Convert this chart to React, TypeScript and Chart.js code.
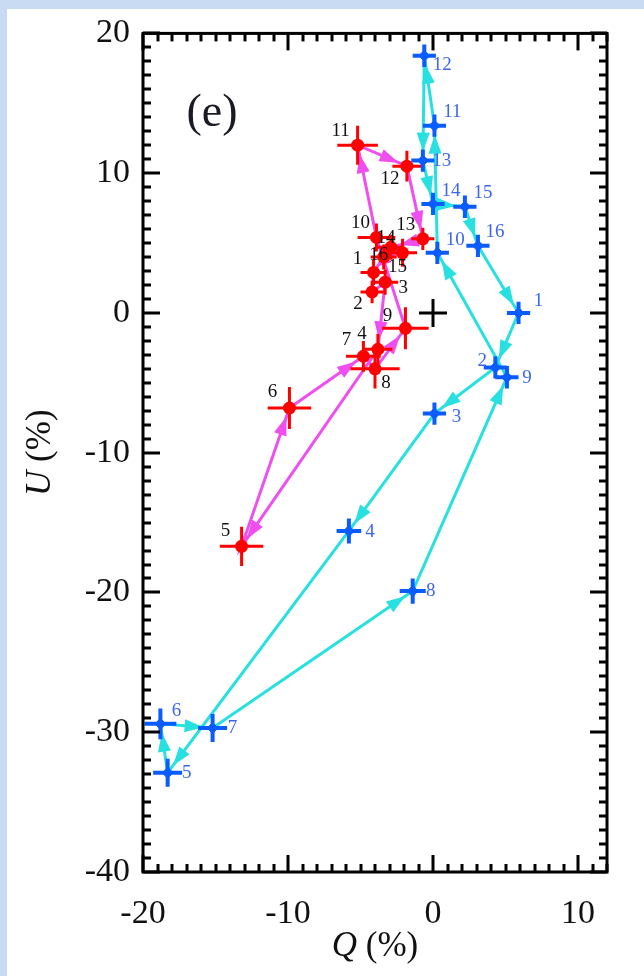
import React, { useEffect, useRef } from "react";
import { Chart, registerables } from "chart.js";

Chart.register(...registerables);

// Point numbers along each track
const pointNames = ["1", "2", "3", "4", "5", "6", "7", "8", "9", "10", "11", "12", "13", "14", "15", "16"];

// Blue track (Q, U in %) with 1-sigma errors
const blueQ = [5.9, 4.3, 0.1, -5.8, -18.3, -18.8, -15.2, -1.4, 5.1, 0.3, 0.1, -0.6, -0.7, 0.0, 2.2, 3.1];
const blueU = [0.0, -3.9, -7.2, -15.6, -32.9, -29.4, -29.7, -19.9, -4.6, 4.3, 13.4, 18.4, 10.9, 7.8, 7.6, 4.8];
const blueQErr = [0.8, 0.8, 0.8, 0.85, 1.0, 1.1, 1.0, 0.9, 0.8, 0.8, 0.8, 0.8, 0.8, 0.8, 0.8, 0.8];
const blueUErr = [0.8, 0.8, 0.8, 0.9, 1.0, 1.1, 1.0, 0.9, 0.8, 0.8, 0.8, 0.8, 0.8, 0.8, 0.8, 0.8];

// Red track (Q, U in %) with 1-sigma errors
const redQ = [-4.1, -4.2, -3.3, -3.8, -13.2, -9.9, -4.8, -4.0, -1.9, -3.9, -5.2, -1.8, -0.7, -2.9, -2.1, -3.4];
const redU = [2.9, 1.5, 2.2, -2.6, -16.7, -6.8, -3.1, -4.0, -1.1, 5.4, 12.0, 10.5, 5.3, 4.7, 4.3, 4.0];
const redQErr = [0.9, 0.8, 0.9, 1.0, 1.5, 1.5, 1.2, 1.7, 1.6, 1.3, 1.4, 1.0, 0.8, 0.9, 1.0, 0.9];
const redUErr = [0.9, 0.8, 0.9, 1.1, 1.4, 1.5, 1.1, 1.4, 1.5, 1.0, 1.4, 1.1, 0.8, 0.9, 1.0, 0.9];

// Reference origin
const originQ = [0];
const originU = [0];

// Axes
const qRange = [-20, 12];
const uRange = [-40, 20];
const qTicks = [-20, -10, 0, 10];
const uTicks = [-40, -30, -20, -10, 0, 10, 20];
const minorStep = 1;
const majorStep = 10;
const panelTag = "(e)";

// Label offsets in pixels (placement only)
const blueLabelDx = [20, -13, 22, 21, 19, 16, 20, 18, 20, 18, 18, 18, 19, 18, 18, 17];
const blueLabelDy = [-12, -6, 3, 1, 0, -13, 0, 0, 1, -13, -14, 9, 0, -13, -14, -14];
const redLabelDx = [-16, -14, 18, -16, -16, -17, -17, 11, -18, -16, -17, -17, -17, -5, -5, -5];
const redLabelDy = [-13, 12, 6, -15, -15, -16, -16, 14, -12, -14, -14, 13, -14, -9, 14, -2];

const CYAN = "#28e0e0";
const MAGENTA = "#ee4fee";
const BLUE = "#0b5cff";
const RED = "#ff0000";
const BLUE_TEXT = "#3d66ee";
const INK = "#111111";
const SERIF = "'Liberation Serif', 'DejaVu Serif', serif";

const toPoints = (q: number[], u: number[]) => q.map((x, i) => ({ x, y: u[i] }));
const closedLoop = (q: number[], u: number[]) => {
  const pts = toPoints(q, u);
  return pts.concat([pts[0]]);
};

const tracks: Record<string, any> = {
  blue: { q: blueQ, u: blueU, qe: blueQErr, ue: blueUErr, line: CYAN, mark: BLUE, barWidth: 4 },
  red: { q: redQ, u: redU, qe: redQErr, ue: redUErr, line: MAGENTA, mark: RED, barWidth: 3 },
};

function arrowHead(ctx: CanvasRenderingContext2D, x0: number, y0: number, x1: number, y1: number, color: string) {
  const dx = x1 - x0;
  const dy = y1 - y0;
  const d = Math.hypot(dx, dy);
  if (d < 30) return;
  const ux = dx / d;
  const uy = dy / d;
  const gap = 9;
  const len = 19;
  const half = 6.5;
  const tx = x1 - ux * gap;
  const ty = y1 - uy * gap;
  const bx = tx - ux * len;
  const by = ty - uy * len;
  ctx.beginPath();
  ctx.moveTo(tx, ty);
  ctx.lineTo(bx - uy * half, by + ux * half);
  ctx.lineTo(bx + uy * half, by - ux * half);
  ctx.closePath();
  ctx.fillStyle = color;
  ctx.fill();
}

const overlay = {
  id: "overlay",
  afterDatasetDraw(chart: any, args: any) {
    const ds = chart.data.datasets[args.index];
    const t = tracks[ds.trackKey];
    if (!t || ds.trackRole !== "path") return;
    const ctx: CanvasRenderingContext2D = chart.ctx;
    const xs = chart.scales.x;
    const ys = chart.scales.y;
    ctx.save();
    const n = t.q.length;
    for (let i = 0; i < n; i++) {
      const j = (i + 1) % n;
      arrowHead(
        ctx,
        xs.getPixelForValue(t.q[i]),
        ys.getPixelForValue(t.u[i]),
        xs.getPixelForValue(t.q[j]),
        ys.getPixelForValue(t.u[j]),
        t.line
      );
    }
    ctx.strokeStyle = t.mark;
    ctx.lineWidth = t.barWidth;
    for (let i = 0; i < n; i++) {
      const px = xs.getPixelForValue(t.q[i]);
      const py = ys.getPixelForValue(t.u[i]);
      ctx.beginPath();
      ctx.moveTo(xs.getPixelForValue(t.q[i] - t.qe[i]), py);
      ctx.lineTo(xs.getPixelForValue(t.q[i] + t.qe[i]), py);
      ctx.moveTo(px, ys.getPixelForValue(t.u[i] - t.ue[i]));
      ctx.lineTo(px, ys.getPixelForValue(t.u[i] + t.ue[i]));
      ctx.stroke();
    }
    ctx.restore();
  },
  afterDraw(chart: any) {
    const ctx: CanvasRenderingContext2D = chart.ctx;
    const xs = chart.scales.x;
    const ys = chart.scales.y;
    const { left, right, top, bottom } = chart.chartArea;
    ctx.save();

    // point numbers
    ctx.textAlign = "center";
    ctx.textBaseline = "middle";
    ctx.font = `19px ${SERIF}`;
    pointNames.forEach((name, i) => {
      ctx.fillStyle = BLUE_TEXT;
      ctx.fillText(name, xs.getPixelForValue(blueQ[i]) + blueLabelDx[i], ys.getPixelForValue(blueU[i]) + blueLabelDy[i]);
      ctx.fillStyle = INK;
      ctx.fillText(name, xs.getPixelForValue(redQ[i]) + redLabelDx[i], ys.getPixelForValue(redU[i]) + redLabelDy[i]);
    });

    // frame and inward ticks on all four sides
    ctx.strokeStyle = "#000";
    ctx.lineWidth = 3;
    ctx.strokeRect(left, top, right - left, bottom - top);
    ctx.fillStyle = "#000";
    const tw = 3;
    const steps = (lo: number, hi: number) => {
      const out: number[] = [];
      for (let k = Math.ceil(lo / minorStep); k * minorStep <= hi; k++) out.push(k * minorStep);
      return out;
    };
    steps(qRange[0], qRange[1]).forEach((v) => {
      const px = Math.round(xs.getPixelForValue(v));
      const len = Math.abs(v % majorStep) < 1e-9 ? 17 : 8;
      ctx.fillRect(px - tw / 2, bottom - len, tw, len);
      ctx.fillRect(px - tw / 2, top, tw, len);
    });
    steps(uRange[0], uRange[1]).forEach((v) => {
      const py = Math.round(ys.getPixelForValue(v));
      const len = Math.abs(v % majorStep) < 1e-9 ? 17 : 8;
      ctx.fillRect(left, py - tw / 2, len, tw);
      ctx.fillRect(right - len, py - tw / 2, len, tw);
    });

    // panel tag
    ctx.fillStyle = "#1a1a24";
    ctx.font = `46px ${SERIF}`;
    ctx.textAlign = "center";
    ctx.textBaseline = "middle";
    ctx.fillText(panelTag, 212, 114);

    // axis titles: italic symbol followed by upright unit
    const drawTitle = (sym: string, unit: string) => {
      ctx.font = `italic 35px ${SERIF}`;
      const w1 = ctx.measureText(sym).width;
      ctx.font = `35px ${SERIF}`;
      const w2 = ctx.measureText(unit).width;
      const start = -(w1 + w2) / 2;
      ctx.textAlign = "left";
      ctx.font = `italic 35px ${SERIF}`;
      ctx.fillText(sym, start, 0);
      ctx.font = `35px ${SERIF}`;
      ctx.fillText(unit, start + w1, 0);
    };
    ctx.fillStyle = INK;
    ctx.save();
    ctx.translate((left + right) / 2, 947);
    drawTitle("Q", " (%)");
    ctx.restore();
    ctx.save();
    ctx.translate(41, (top + bottom) / 2);
    ctx.rotate(-Math.PI / 2);
    drawTitle("U", " (%)");
    ctx.restore();

    ctx.restore();
  },
};

export default function App() {
  const canvasRef = useRef<HTMLCanvasElement | null>(null);

  useEffect(() => {
    const canvas = canvasRef.current;
    if (!canvas) return;
    const chart = new Chart(canvas, {
      type: "scatter",
      data: {
        datasets: [
          {
            trackKey: "blue",
            trackRole: "path",
            data: closedLoop(blueQ, blueU),
            showLine: true,
            borderColor: CYAN,
            borderWidth: 3,
            pointRadius: 0,
            order: 3,
          } as any,
          {
            trackKey: "red",
            trackRole: "path",
            data: closedLoop(redQ, redU),
            showLine: true,
            borderColor: MAGENTA,
            borderWidth: 3,
            pointRadius: 0,
            order: 3,
          } as any,
          {
            data: toPoints(blueQ, blueU),
            pointStyle: "rectRot",
            pointRadius: 5.5,
            backgroundColor: BLUE,
            borderColor: BLUE,
            borderWidth: 1,
            order: 1,
          },
          {
            data: toPoints(redQ, redU),
            pointStyle: "circle",
            pointRadius: 6.5,
            backgroundColor: RED,
            borderColor: RED,
            borderWidth: 0,
            order: 1,
          },
          {
            data: toPoints(originQ, originU),
            pointStyle: "cross",
            pointRadius: 14,
            borderColor: "#000",
            borderWidth: 3,
            order: 0,
          },
        ],
      },
      options: {
        responsive: false,
        animation: false,
        devicePixelRatio: 1,
        events: [],
        layout: { padding: { top: 30, right: 37, left: 0, bottom: 0 } },
        plugins: { legend: { display: false }, tooltip: { enabled: false } },
        scales: {
          x: {
            type: "linear",
            min: qRange[0],
            max: qRange[1],
            grid: { display: false, drawTicks: false },
            border: { display: false },
            afterBuildTicks: (s: any) => {
              s.ticks = qTicks.map((value) => ({ value }));
            },
            afterFit: (s: any) => {
              s.height = 104;
            },
            ticks: {
              padding: 22,
              color: INK,
              font: { family: SERIF, size: 34 },
              maxRotation: 0,
              autoSkip: false,
              callback: (v: any) => String(v),
            },
          },
          y: {
            type: "linear",
            min: uRange[0],
            max: uRange[1],
            grid: { display: false, drawTicks: false },
            border: { display: false },
            afterBuildTicks: (s: any) => {
              s.ticks = uTicks.map((value) => ({ value }));
            },
            afterFit: (s: any) => {
              s.width = 143;
            },
            ticks: {
              padding: 13,
              color: INK,
              font: { family: SERIF, size: 34 },
              autoSkip: false,
              callback: (v: any) => String(v),
            },
          },
        },
      },
      plugins: [overlay],
    } as any);
    return () => chart.destroy();
  }, []);

  return (
    <div style={{ position: "fixed", left: 0, top: 0, width: 644, height: 976, background: "#ffffff", overflow: "hidden" }}>
      <div style={{ position: "absolute", left: 0, top: 0, width: 644, height: 9, background: "#c8dbf2" }} />
      <div style={{ position: "absolute", left: 0, top: 0, width: 7, height: 976, background: "#c8dbf2" }} />
      <canvas ref={canvasRef} width={644} height={976} style={{ position: "absolute", left: 0, top: 0, width: 644, height: 976 }} />
    </div>
  );
}
